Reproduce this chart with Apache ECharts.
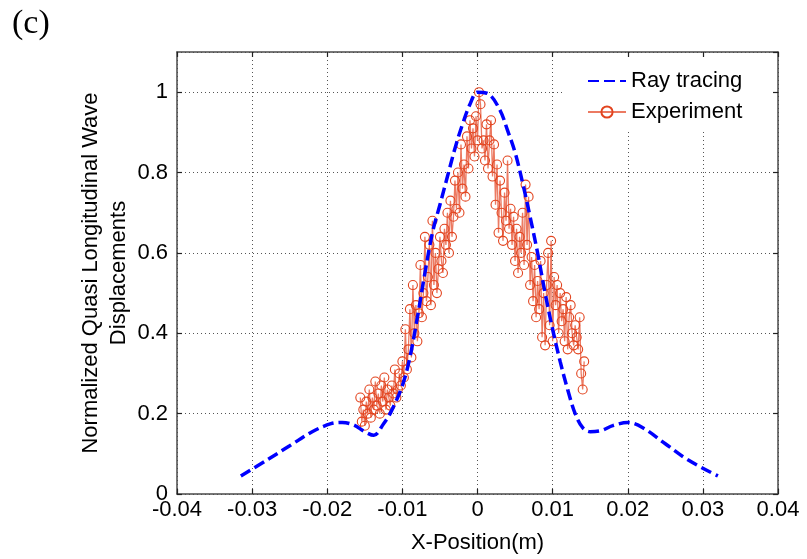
<!DOCTYPE html>
<html>
<head>
<meta charset="utf-8">
<script src="https://cdn.jsdelivr.net/npm/echarts@6/dist/echarts.min.js"></script>
<style>
  html, body { margin: 0; padding: 0; background: #fff; }
  #chart { width: 807px; height: 559px; }
</style>
</head>
<body>
<div id="chart"></div>
<script>
// Ray-tracing prediction of the normalized quasi-longitudinal wave displacement
const rayX = [-0.0315, -0.028, -0.025, -0.022, -0.0195, -0.018, -0.0165, -0.015, -0.0138, -0.0125, -0.0115,
  -0.010, -0.009, -0.008, -0.007, -0.006, -0.005, -0.004, -0.003, -0.002, -0.001, 0, 0.0015, 0.003,
  0.004, 0.005, 0.006, 0.007, 0.008, 0.009, 0.010, 0.011, 0.012, 0.013, 0.014, 0.015, 0.0165, 0.018,
  0.020, 0.022, 0.025, 0.028, 0.032];
const rayY = [0.045, 0.085, 0.12, 0.155, 0.175, 0.178, 0.172, 0.155, 0.146, 0.175, 0.205,
  0.27, 0.34, 0.44, 0.55, 0.65, 0.72, 0.79, 0.86, 0.92, 0.97, 1.0, 0.995, 0.955,
  0.905, 0.85, 0.775, 0.69, 0.6, 0.5, 0.41, 0.33, 0.26, 0.2, 0.165, 0.155, 0.158, 0.17,
  0.178, 0.165, 0.125, 0.085, 0.045];

// Measured displacements across the scan positions
const expX = [-0.0156, -0.0154, -0.0152, -0.0150, -0.0148, -0.0146, -0.0144, -0.0142, -0.0140, -0.0138,
  -0.0136, -0.0134, -0.0132, -0.0130, -0.0128, -0.0126, -0.0124, -0.0122, -0.0120, -0.0118,
  -0.0116, -0.0114, -0.0112, -0.0110, -0.0108, -0.0106, -0.0104, -0.0102, -0.0100, -0.0098,
  -0.0096, -0.0094, -0.0092, -0.0090, -0.0088, -0.0086, -0.0084, -0.0082, -0.0080, -0.0078,
  -0.0076, -0.0074, -0.0072, -0.0070, -0.0068, -0.0066, -0.0064, -0.0062, -0.0060, -0.0058,
  -0.0056, -0.0054, -0.0052, -0.0050, -0.0048, -0.0046, -0.0044, -0.0042, -0.0040, -0.0038,
  -0.0036, -0.0034, -0.0032, -0.0030, -0.0028, -0.0026, -0.0024, -0.0022, -0.0020, -0.0018,
  -0.0016, -0.0014, -0.0012, -0.0010, -0.0008, -0.0006, -0.0004, -0.0002, 0.0000, 0.0002,
  0.0004, 0.0006, 0.0008, 0.0010, 0.0012, 0.0014, 0.0016, 0.0018, 0.0020, 0.0022,
  0.0024, 0.0026, 0.0028, 0.0030, 0.0032, 0.0034, 0.0036, 0.0038, 0.0040, 0.0042,
  0.0044, 0.0046, 0.0048, 0.0050, 0.0052, 0.0054, 0.0056, 0.0058, 0.0060, 0.0062,
  0.0064, 0.0066, 0.0068, 0.0070, 0.0072, 0.0074, 0.0076, 0.0078, 0.0080, 0.0082,
  0.0084, 0.0086, 0.0088, 0.0090, 0.0092, 0.0094, 0.0096, 0.0098, 0.0100, 0.0102,
  0.0104, 0.0106, 0.0108, 0.0110, 0.0112, 0.0114, 0.0116, 0.0118, 0.0120, 0.0122,
  0.0124, 0.0126, 0.0128, 0.0130, 0.0132, 0.0134, 0.0136, 0.0138, 0.0140, 0.0142];
const expY = [0.24, 0.18, 0.21, 0.17, 0.23, 0.20, 0.26, 0.19, 0.24, 0.21,
  0.28, 0.22, 0.25, 0.20, 0.27, 0.23, 0.29, 0.21, 0.26, 0.24,
  0.22, 0.27, 0.25, 0.31, 0.24, 0.26, 0.30, 0.27, 0.33, 0.29,
  0.41, 0.31, 0.36, 0.46, 0.34, 0.52, 0.40, 0.47, 0.38, 0.45,
  0.57, 0.44, 0.50, 0.64, 0.48, 0.54, 0.62, 0.47, 0.68, 0.52,
  0.60, 0.50, 0.56, 0.64, 0.58, 0.55, 0.66, 0.62, 0.70, 0.60,
  0.73, 0.64, 0.69, 0.78, 0.71, 0.80, 0.70, 0.87, 0.76, 0.82,
  0.74, 0.89, 0.81, 0.93, 0.86, 0.91, 0.84, 0.94, 0.88, 1.00,
  0.97, 0.86, 0.88, 0.83, 0.92, 0.81, 0.88, 0.93, 0.79, 0.87,
  0.72, 0.82, 0.65, 0.78, 0.70, 0.63, 0.75, 0.68, 0.83, 0.66,
  0.71, 0.62, 0.69, 0.58, 0.66, 0.55, 0.64, 0.60, 0.70, 0.57,
  0.77, 0.62, 0.74, 0.52, 0.59, 0.48, 0.57, 0.44, 0.53, 0.46,
  0.58, 0.39, 0.50, 0.37, 0.52, 0.60, 0.42, 0.63, 0.38, 0.54,
  0.47, 0.52, 0.40, 0.50, 0.43, 0.46, 0.38, 0.49, 0.36, 0.44,
  0.47, 0.40, 0.37, 0.42, 0.39, 0.36, 0.44, 0.30, 0.26, 0.33];

const xTicks = [-0.04, -0.03, -0.02, -0.01, 0, 0.01, 0.02, 0.03, 0.04];
const yTicks = [0, 0.2, 0.4, 0.6, 0.8, 1];

const FONT = 'Liberation Sans';
const AXIS_COLOR = '#4a4a4a';

const pair = (xs, ys) => xs.map((x, i) => [x, ys[i]]);
const fmt = v => {
  const r = Math.round(v * 1000) / 1000;
  return r === 0 ? '0' : String(r);
};

const chart = echarts.init(document.getElementById('chart'), null, { renderer: 'canvas' });

const gridLine = { show: true, lineStyle: { color: '#555', width: 1, type: [1, 3] } };
const boxLine = { show: true, onZero: false, lineStyle: { color: AXIS_COLOR, width: 1.5 } };
const inTicks = { show: true, inside: true, length: 5, lineStyle: { color: '#222', width: 1.2 } };

chart.setOption({
  backgroundColor: '#fff',
  animation: false,
  title: {
    text: '(c)', left: 7, top: 2,
    textStyle: { fontFamily: 'Liberation Serif', fontSize: 34, fontWeight: 'normal', color: '#000' }
  },
  grid: { left: 177, right: 29, top: 52, bottom: 62, containLabel: false },
  legend: {
    left: 565, top: 60,
    orient: 'vertical',
    padding: [10, 30, 8, 22],
    itemGap: 9,
    itemWidth: 38, itemHeight: 14,
    backgroundColor: '#fff',
    textStyle: { fontFamily: FONT, fontSize: 22, color: '#000', lineHeight: 22 },
    data: [
      { name: 'Ray tracing', itemStyle: { opacity: 0 } },
      { name: 'Experiment' }
    ]
  },
  xAxis: [{
    type: 'value', min: -0.04, max: 0.04, interval: 0.01,
    name: 'X-Position(m)', nameLocation: 'middle', nameGap: 38,
    nameTextStyle: { fontFamily: FONT, fontSize: 22, color: '#000' },
    axisLine: boxLine, axisTick: inTicks, splitLine: gridLine,
    axisLabel: { fontFamily: FONT, fontSize: 22, color: '#000', margin: 5,
      formatter: v => xTicks.some(t => Math.abs(t - v) < 1e-9) ? fmt(v) : '' }
  }, {
    type: 'value', position: 'top', min: -0.04, max: 0.04, interval: 0.01,
    axisLine: boxLine, axisTick: inTicks, splitLine: { show: false }, axisLabel: { show: false }
  }],
  yAxis: [{
    type: 'value', min: 0, max: 1.1, interval: 0.2,
    name: 'Normalized Quasi Longitudinal Wave\nDisplacements', nameLocation: 'middle', nameGap: 44,
    nameMoveOverlap: false,
    nameTextStyle: { fontFamily: FONT, fontSize: 22, color: '#000', lineHeight: 28 },
    axisLine: boxLine, axisTick: inTicks, splitLine: gridLine,
    axisLabel: { fontFamily: FONT, fontSize: 22, color: '#000', margin: 9, showMaxLabel: false,
      formatter: v => yTicks.some(t => Math.abs(t - v) < 1e-9) ? fmt(v) : '' }
  }, {
    type: 'value', position: 'right', min: 0, max: 1.1, interval: 0.2,
    axisLine: boxLine, axisTick: inTicks, splitLine: { show: false }, axisLabel: { show: false }
  }],
  series: [{
    name: 'Experiment',
    type: 'line',
    data: pair(expX, expY),
    z: 3,
    symbol: 'circle', symbolSize: 9, showSymbol: true,
    lineStyle: { color: '#ec7a62', width: 1.3 },
    itemStyle: { color: 'rgba(0,0,0,0)', borderColor: '#e2441f', borderWidth: 1.1 }
  }, {
    name: 'Ray tracing',
    type: 'line',
    data: pair(rayX, rayY),
    z: 4,
    smooth: 0.35,
    symbol: 'none',
    lineStyle: { color: '#0000ff', width: 3.5, type: [11, 5] },
    itemStyle: { color: '#0000ff' }
  }]
});
</script>
</body>
</html>
